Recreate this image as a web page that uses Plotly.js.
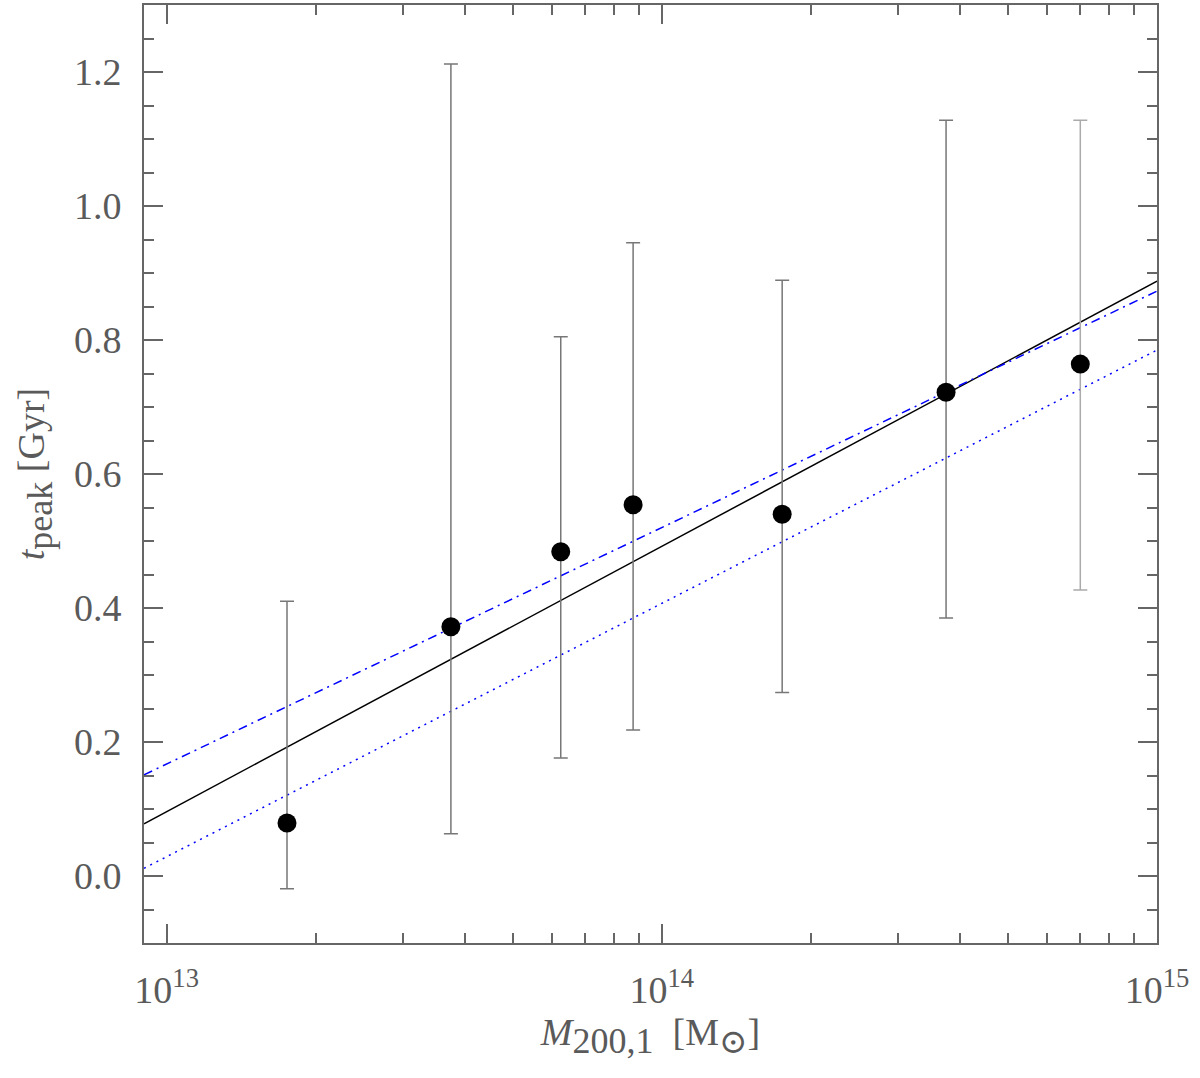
<!DOCTYPE html>
<html>
<head>
<meta charset="utf-8">
<script src="https://cdn.plot.ly/plotly-3.0.1.min.js"></script>
<style>html,body{margin:0;padding:0;background:#fff;}#chart{width:1200px;height:1078px;}</style>
</head>
<body>
<div id="chart"></div>
<script>
// Data points (M200,1 in Msun, t_peak in Gyr)
const massBins = [1.75e13, 3.75e13, 6.25e13, 8.75e13, 1.75e14, 3.75e14, 7.0e14];
const tPeak    = [0.079, 0.372, 0.484, 0.554, 0.540, 0.722, 0.764];
const tUpper   = [0.410, 1.212, 0.805, 0.945, 0.889, 1.128, 1.128];
const tLower   = [-0.019, 0.063, 0.176, 0.218, 0.274, 0.385, 0.427];

// Fit lines (endpoints across the plotted mass range)
const fitMass      = [9.0e12, 1.0e15];
const fitSolid     = [0.078, 0.888];
const fitDashDot   = [0.151, 0.873];
const fitDotted    = [0.0115, 0.785];

const xTickVals = [1e13, 1e14, 1e15];
const xTickText = ['10<sup>13</sup>', '10<sup>14</sup>', '10<sup>15</sup>'];

const nMain = massBins.length - 1;
const errUp = tUpper.map((u, i) => u - tPeak[i]);
const errDn = tLower.map((l, i) => tPeak[i] - l);

const minorX = [];
[12, 13, 14].forEach(e => { for (let k = 2; k <= 9; k++) minorX.push(k * Math.pow(10, e)); });

const FONT = 'Liberation Serif, DejaVu Serif, serif';
const TXT = '#5a5a5a';

const traces = [
  {x: fitMass, y: fitSolid, mode: 'lines', line: {color: '#000', width: 1.5}, hoverinfo: 'skip'},
  {x: fitMass, y: fitDashDot, mode: 'lines', line: {color: '#0000ff', width: 1.5, dash: '9px,5px,2px,5px'}, hoverinfo: 'skip'},
  {x: fitMass, y: fitDotted, mode: 'lines', line: {color: '#0000ff', width: 1.5, dash: '2px,5px'}, hoverinfo: 'skip'},
  {
    x: massBins.slice(0, nMain), y: tPeak.slice(0, nMain), mode: 'markers',
    marker: {color: '#000', size: 19},
    error_y: {type: 'data', symmetric: false, array: errUp.slice(0, nMain), arrayminus: errDn.slice(0, nMain),
              color: '#777', thickness: 1.5, width: 7}
  },
  {
    x: massBins.slice(nMain), y: tPeak.slice(nMain), mode: 'markers',
    marker: {color: '#000', size: 19},
    error_y: {type: 'data', symmetric: false, array: errUp.slice(nMain), arrayminus: errDn.slice(nMain),
              color: '#aaa', thickness: 1.5, width: 7}
  }
];

const axisCommon = {
  showgrid: false, zeroline: false, showline: true, linecolor: '#666', linewidth: 2,
  mirror: 'allticks', ticks: 'inside', tickcolor: '#666', tickwidth: 2, ticklen: 19,
  tickfont: {family: FONT, size: 38, color: TXT}
};

const layout = {
  width: 1200, height: 1078,
  margin: {l: 144, r: 43, t: 5, b: 135},
  paper_bgcolor: '#fff', plot_bgcolor: '#fff',
  showlegend: false,
  font: {family: FONT, color: TXT},
  xaxis: Object.assign({}, axisCommon, {
    type: 'log', range: [Math.log10(9.0e12), 15],
    tickmode: 'array', tickvals: xTickVals, ticktext: xTickText,
    ticklabelstandoff: 12,
    minor: {tickmode: 'array', tickvals: minorX, ticks: 'inside', ticklen: 10, tickcolor: '#666', tickwidth: 2},
    title: {text: '<i>M</i><sub><span style="font-size:36px">200,1</span></sub>  [M<sub><span style="font-size:34px">⊙</span></sub>]',
            font: {family: FONT, size: 38, color: TXT}, standoff: 6}
  }),
  yaxis: Object.assign({}, axisCommon, {
    range: [-0.1, 1.3], tick0: 0, dtick: 0.2, tickformat: '.1f',
    ticklabelstandoff: 13,
    minor: {dtick: 0.05, ticks: 'inside', ticklen: 10, tickcolor: '#666', tickwidth: 2},
    title: {text: '<i>t</i><sub><span style="font-size:36px">peak</span></sub> [Gyr]',
            font: {family: FONT, size: 38, color: TXT}, standoff: 18}
  })
};

Plotly.newPlot('chart', traces, layout, {displayModeBar: false, staticPlot: true});
</script>
</body>
</html>
